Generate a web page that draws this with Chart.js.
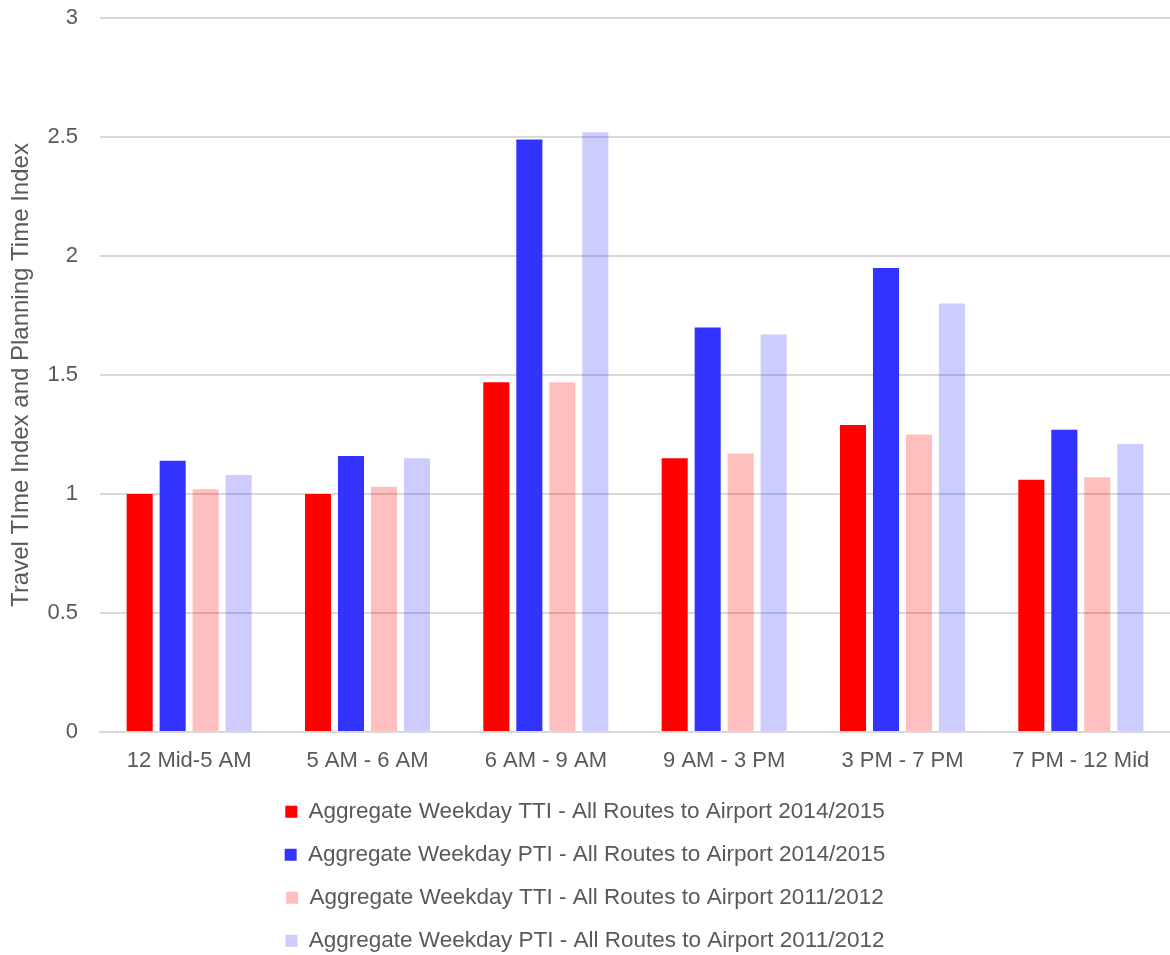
<!DOCTYPE html>
<html>
<head>
<meta charset="utf-8">
<script src="https://cdn.jsdelivr.net/npm/chart.js@4/dist/chart.umd.min.js"></script>
<style>
  html, body { margin: 0; padding: 0; background: #ffffff; }
  #wrap { width: 1170px; height: 955px; position: relative; }
</style>
</head>
<body>
<div id="wrap"><canvas id="chart"></canvas></div>
<script>
// Time-of-day periods
const categories = ['12 Mid-5 AM', '5 AM - 6 AM', '6 AM - 9 AM', '9 AM - 3 PM', '3 PM - 7 PM', '7 PM - 12 Mid'];

// Index values per period
const tti2014 = [1.00, 1.00, 1.47, 1.15, 1.29, 1.06];
const pti2014 = [1.14, 1.16, 2.49, 1.70, 1.95, 1.27];
const tti2011 = [1.02, 1.03, 1.47, 1.17, 1.25, 1.07];
const pti2011 = [1.08, 1.15, 2.52, 1.67, 1.80, 1.21];

const seriesNames = [
  'Aggregate Weekday TTI - All Routes to Airport 2014/2015',
  'Aggregate Weekday PTI - All Routes to Airport 2014/2015',
  'Aggregate Weekday TTI - All Routes to Airport 2011/2012',
  'Aggregate Weekday PTI - All Routes to Airport 2011/2012'
];

const yTitle = 'Travel TIme Index and Planning Time Index';

const textColor = '#595959';
const gridColor = '#d9d9d9';

new Chart(document.getElementById('chart'), {
  type: 'bar',
  data: {
    labels: categories,
    datasets: [
      { label: seriesNames[0], data: tti2014, backgroundColor: '#ff0000' },
      { label: seriesNames[1], data: pti2014, backgroundColor: '#3333ff' },
      { label: seriesNames[2], data: tti2011, backgroundColor: 'rgba(255,0,0,0.25)' },
      { label: seriesNames[3], data: pti2011, backgroundColor: 'rgba(51,51,255,0.25)' }
    ]
  },
  options: {
    responsive: true,
    maintainAspectRatio: false,
    animation: false,
    layout: { padding: { top: 0, right: 0, left: 0, bottom: -7 } },
    datasets: {
      bar: { categoryPercentage: 0.74, barPercentage: 0.79 }
    },
    scales: {
      x: {
        grid: { display: false, drawTicks: false },
        border: { display: true, color: gridColor, width: 2 },
        ticks: {
          color: textColor,
          font: { family: 'Liberation Sans', size: 22 },
          padding: 16,
          maxRotation: 0
        },
        afterFit: (scale) => { scale.height = 48; }
      },
      y: {
        min: 0,
        max: 3,
        ticks: {
          stepSize: 0.5,
          color: textColor,
          font: { family: 'Liberation Sans', size: 22 },
          padding: 22,
          callback: (v) => String(v)
        },
        grid: { color: gridColor, lineWidth: 2, drawTicks: false },
        border: { display: false },
        title: {
          display: true,
          text: yTitle,
          color: textColor,
          font: { family: 'Liberation Sans', size: 24 },
          padding: { top: 7, bottom: 12 }
        },
        afterFit: (scale) => {
          scale.width = 100;
          scale.paddingTop = 18;
        }
      }
    },
    plugins: {
      tooltip: { enabled: false },
      legend: {
        position: 'bottom',
        labels: {
          color: textColor,
          font: { family: 'Liberation Sans', size: 22.5 },
          boxWidth: 12,
          boxHeight: 12,
          padding: 20.5
        }
      }
    }
  }
});
</script>
</body>
</html>
